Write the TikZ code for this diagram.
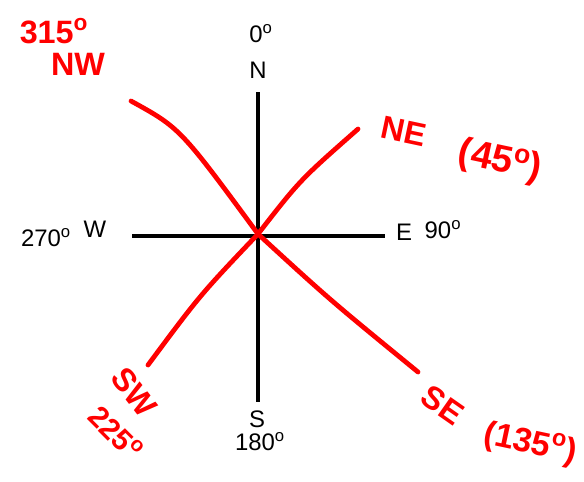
\documentclass[tikz,border=0pt]{standalone}
\usepackage{fontspec}
\setmainfont{Liberation Sans}
\usetikzlibrary{positioning}

\begin{document}
\begin{tikzpicture}[
    x=0.025cm, y=-0.025cm,
    axis/.style={draw=black, line width=4.2pt*0.711, line cap=butt},
    redline/.style={draw=red, line width=3.4pt, line cap=round},
    lbl/.style={font=\fontsize{17}{18}\selectfont, inner sep=0pt},
    hand/.style={text=red, font=\fontsize{23}{24}\selectfont\bfseries, inner sep=0pt}
]
\useasboundingbox (0,0) rectangle (584,481);

% Compass axes
\coordinate (c) at (258,234);
\coordinate (n) at (258,92);
\coordinate (s) at (258,402);
\coordinate (w) at (132,236);
\coordinate (e) at (385,236);
\draw[axis] (n) -- (s);
\draw[axis] (w) -- (e);

% Black labels
\node[lbl] (deg0) at (261,34) {0\textsuperscript{o}};
\node[lbl] (north) at (258,70) {N};
\node[lbl] (deg270) at (46,238) {270\textsuperscript{o}};
\node[lbl] (west) at (95,229) {W};
\node[lbl] (east) at (404,232) {E};
\node[lbl] (deg90) at (443,230) {90\textsuperscript{o}};
\node[lbl] (south) at (257,419) {S};
\node[lbl] (deg180) at (260,442) {180\textsuperscript{o}};

% Red diagonals
\coordinate (nw) at (131,101);
\coordinate (se) at (418,372);
\coordinate (ne) at (358,129);
\coordinate (sw) at (148,365);
\draw[redline] (nw) .. controls (180,128) .. (c) .. controls (330,300) .. (se);
\draw[redline] (sw) .. controls (200,295) .. (c) .. controls (300,180) .. (ne);

% Red handwriting
\node[hand] (nwdeg) at (54,31) {315\textsuperscript{o}};
\node[hand] (nwname) at (78,64) {NW};
\node[hand, rotate=-12] (nename) at (404,131) {NE};
\node[hand, rotate=-12, font=\fontsize{27}{28}\selectfont\bfseries] (nedeg) at (500,162) {(45\textsuperscript{o})};
\node[hand, rotate=-52] (swname) at (134,392) {SW};
\node[hand, rotate=-45, font=\fontsize{21}{22}\selectfont\bfseries] (swdeg) at (116,433) {225\textsuperscript{o}};
\node[hand, rotate=-35] (sename) at (443,405) {SE};
\node[hand, rotate=-12, font=\fontsize{24}{26}\selectfont\bfseries] (sedeg) at (530,444) {(135\textsuperscript{o})};

\end{tikzpicture}
\end{document}
